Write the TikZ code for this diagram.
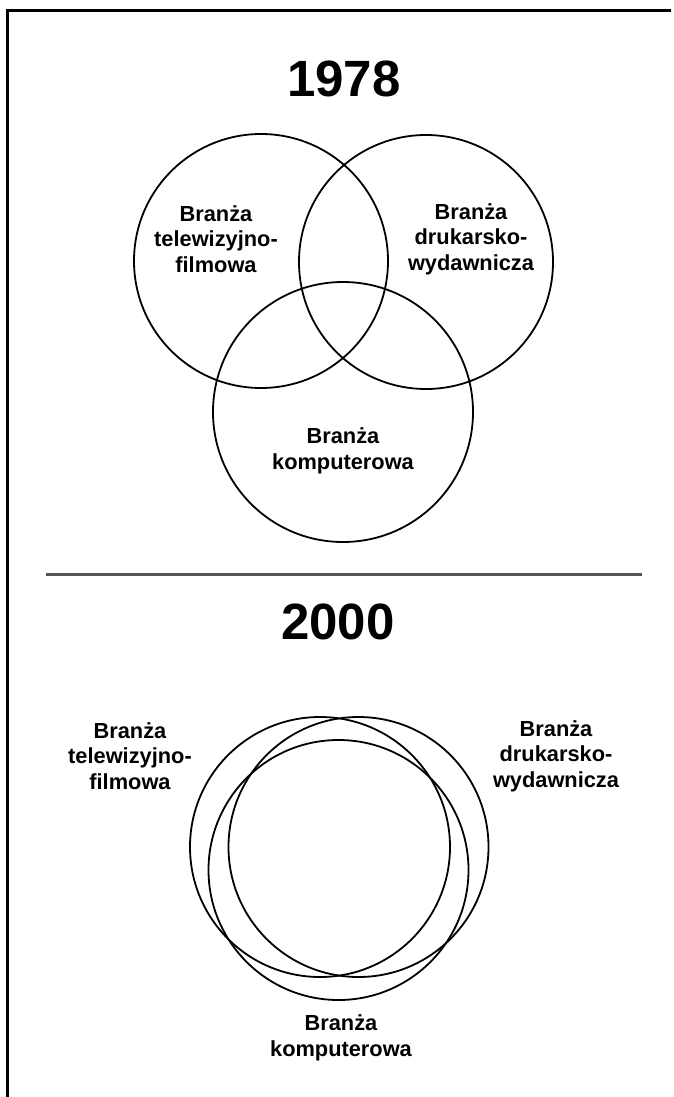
\documentclass[tikz,border=0pt]{standalone}
\usepackage{fontspec}
\setmainfont{Liberation Sans}
\definecolor{rule}{HTML}{555555}
\begin{document}
\begin{tikzpicture}[x=1pt,y=-1pt,
  ring/.style={circle,draw,line width=1.8pt,inner sep=0pt},
  lbl/.style={font=\fontsize{21.8}{25.5}\selectfont\bfseries,align=center,inner sep=0pt},
  yr/.style={font=\fontsize{51}{60}\selectfont\bfseries,inner sep=0pt}]
\useasboundingbox (0,0) rectangle (673,1097);
% frame (left and top edges)
\coordinate (tr) at (671,11);
\coordinate (tl) at (7.5,11);
\coordinate (bl) at (7.5,1097);
\draw[line width=3pt] (tr) -- (tl) -- (bl);
% ---- 1978 ----
\node[yr] (y1) at (344,79) {1978};
\node[ring,minimum size=254pt] (c1a) at (261,261) {};
\node[ring,minimum size=254pt] (c1b) at (426,262) {};
\node[ring,minimum size=260pt] (c1c) at (343,412) {};
\node[lbl] (l1a) at (216,239) {Branża\\telewizyjno-\\filmowa};
\node[lbl] (l1b) at (471,239) {Branża\\drukarsko-\\wydawnicza};
\node[lbl] (l1c) at (343,451) {Branża\\komputerowa};
% divider
\coordinate (dl) at (46,574.5);
\coordinate (dr) at (642,574.5);
\draw[line width=3pt,rule] (dl) -- (dr);
% ---- 2000 ----
\node[yr] (y2) at (338,622) {2000};
\node[ring,minimum size=260pt] (c2a) at (320,847) {};
\node[ring,minimum size=260pt] (c2b) at (358.5,847) {};
\node[ring,minimum size=260pt] (c2c) at (338.5,870) {};
\node[lbl] (l2a) at (130,756) {Branża\\telewizyjno-\\filmowa};
\node[lbl] (l2b) at (556,756) {Branża\\drukarsko-\\wydawnicza};
\node[lbl] (l2c) at (341,1038) {Branża\\komputerowa};
\end{tikzpicture}
\end{document}
